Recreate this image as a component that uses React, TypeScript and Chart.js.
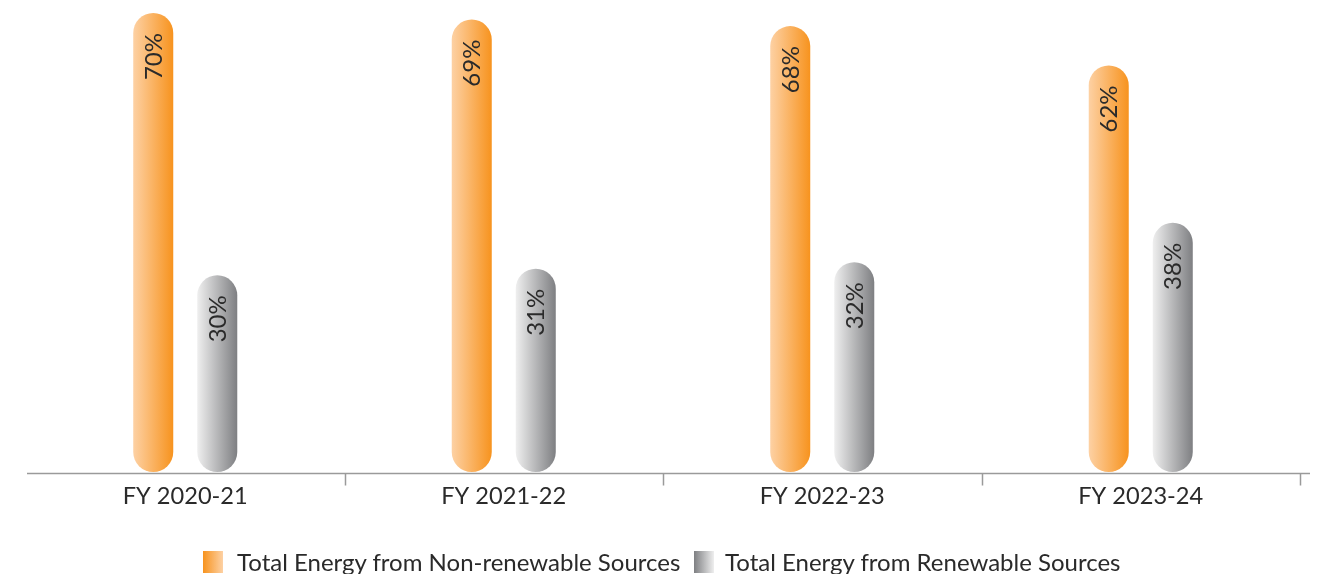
import React, { useEffect, useRef } from "react";
import { Chart, registerables } from "chart.js";
Chart.register(...registerables);

const categories = ["FY 2020-21", "FY 2021-22", "FY 2022-23", "FY 2023-24"];
const nonRenewable = [70, 69, 68, 62];
const renewable = [30, 31, 32, 38];
const seriesNames = [
  "Total Energy from Non-renewable Sources",
  "Total Energy from Renewable Sources",
];

const ORANGE_LIGHT = "#FDD1A4";
const ORANGE_DARK = "#F7931E";
const GRAY_LIGHT = "#EFEFEF";
const GRAY_DARK = "#7E7F82";

const CAT_PCT = 0.402;
const BAR_PCT = 0.625;

function barGradient(light: string, dark: string) {
  return (ctx: any) => {
    const chart = ctx.chart;
    const xs = chart.scales && chart.scales.x;
    if (!chart.chartArea || !xs || ctx.dataIndex == null) return dark;
    const catW = xs.width / categories.length;
    const chunk = (catW * CAT_PCT) / 2;
    const w = chunk * BAR_PCT;
    const cx = xs.getPixelForValue(ctx.dataIndex) + (ctx.datasetIndex === 0 ? -chunk / 2 : chunk / 2);
    const g = chart.ctx.createLinearGradient(cx - w / 2, 0, cx + w / 2, 0);
    g.addColorStop(0, light);
    g.addColorStop(1, dark);
    return g;
  };
}

const axisPlugin = {
  id: "customAxis",
  afterDatasetsDraw(chart: any) {
    const { ctx, chartArea } = chart;
    const y = chartArea.bottom + 1.5;
    const catW = (chartArea.right - chartArea.left) / categories.length;
    ctx.save();
    ctx.strokeStyle = "#9a9a9a";
    ctx.lineWidth = 1.5;
    ctx.beginPath();
    ctx.moveTo(chartArea.left + 1, y);
    ctx.lineTo(chartArea.right + 10, y);
    for (let i = 1; i <= categories.length; i++) {
      const x = Math.round(chartArea.left + i * catW) + 0.5;
      ctx.moveTo(x, y);
      ctx.lineTo(x, y + 12);
    }
    ctx.stroke();
    ctx.restore();
  },
};

const labelPlugin = {
  id: "barLabels",
  afterDatasetsDraw(chart: any) {
    const { ctx } = chart;
    ctx.save();
    ctx.fillStyle = "#2a2a2a";
    ctx.font = "400 24px Lato";
    ctx.textAlign = "right";
    ctx.textBaseline = "middle";
    chart.data.datasets.forEach((ds: any, di: number) => {
      const meta = chart.getDatasetMeta(di);
      meta.data.forEach((el: any, i: number) => {
        ctx.save();
        ctx.translate(el.x + 1, el.y + 20);
        ctx.rotate(-Math.PI / 2);
        ctx.fillText(ds.data[i] + "%", 0, 0);
        ctx.restore();
      });
    });
    ctx.restore();
  },
};

export default function App() {
  const ref = useRef<HTMLCanvasElement>(null);
  useEffect(() => {
    if (!ref.current) return;
    const chart = new Chart(ref.current, {
      type: "bar",
      data: {
        labels: categories,
        datasets: [
          {
            label: seriesNames[0],
            data: nonRenewable,
            backgroundColor: barGradient(ORANGE_LIGHT, ORANGE_DARK),
            borderRadius: 20,
            borderSkipped: false,
            categoryPercentage: CAT_PCT,
            barPercentage: BAR_PCT,
          },
          {
            label: seriesNames[1],
            data: renewable,
            backgroundColor: barGradient(GRAY_LIGHT, GRAY_DARK),
            borderRadius: 20,
            borderSkipped: false,
            categoryPercentage: CAT_PCT,
            barPercentage: BAR_PCT,
          },
        ],
      },
      options: {
        animation: false,
        responsive: true,
        maintainAspectRatio: false,
        layout: { padding: { left: 26, right: 22, top: 13, bottom: 62 } },
        plugins: { legend: { display: false }, tooltip: { enabled: false } },
        scales: {
          x: {
            grid: { display: false, drawTicks: false },
            border: { display: false },
            ticks: {
              color: "#2a2a2a",
              font: { family: "Lato", size: 23.6 },
              padding: 10,
              maxRotation: 0,
            },
            afterFit: (s: any) => {
              s.height = 40;
            },
          },
          y: { display: false, min: 0, max: 70 },
        },
      },
      plugins: [axisPlugin, labelPlugin],
    });
    return () => chart.destroy();
  }, []);

  const legendText: React.CSSProperties = {
    position: "absolute",
    top: 547,
    fontFamily: "Lato",
    fontSize: 24,
    lineHeight: "30px",
    color: "#2a2a2a",
    whiteSpace: "nowrap",
  };
  const box: React.CSSProperties = { position: "absolute", top: 551, width: 20, height: 22 };

  return (
    <div style={{ position: "absolute", left: 0, top: 0, width: 1322, height: 574, background: "#fff", overflow: "hidden" }}>
      <div style={{ position: "relative", width: 1322, height: 574 }}>
        <canvas ref={ref} />
      </div>
      <div style={{ ...box, left: 203, background: `linear-gradient(to right, ${ORANGE_DARK}, ${ORANGE_LIGHT})` }} />
      <div style={{ ...legendText, left: 237 }}>{seriesNames[0]}</div>
      <div style={{ ...box, left: 694, background: `linear-gradient(to right, ${GRAY_DARK}, ${GRAY_LIGHT})` }} />
      <div style={{ ...legendText, left: 725 }}>{seriesNames[1]}</div>
    </div>
  );
}
